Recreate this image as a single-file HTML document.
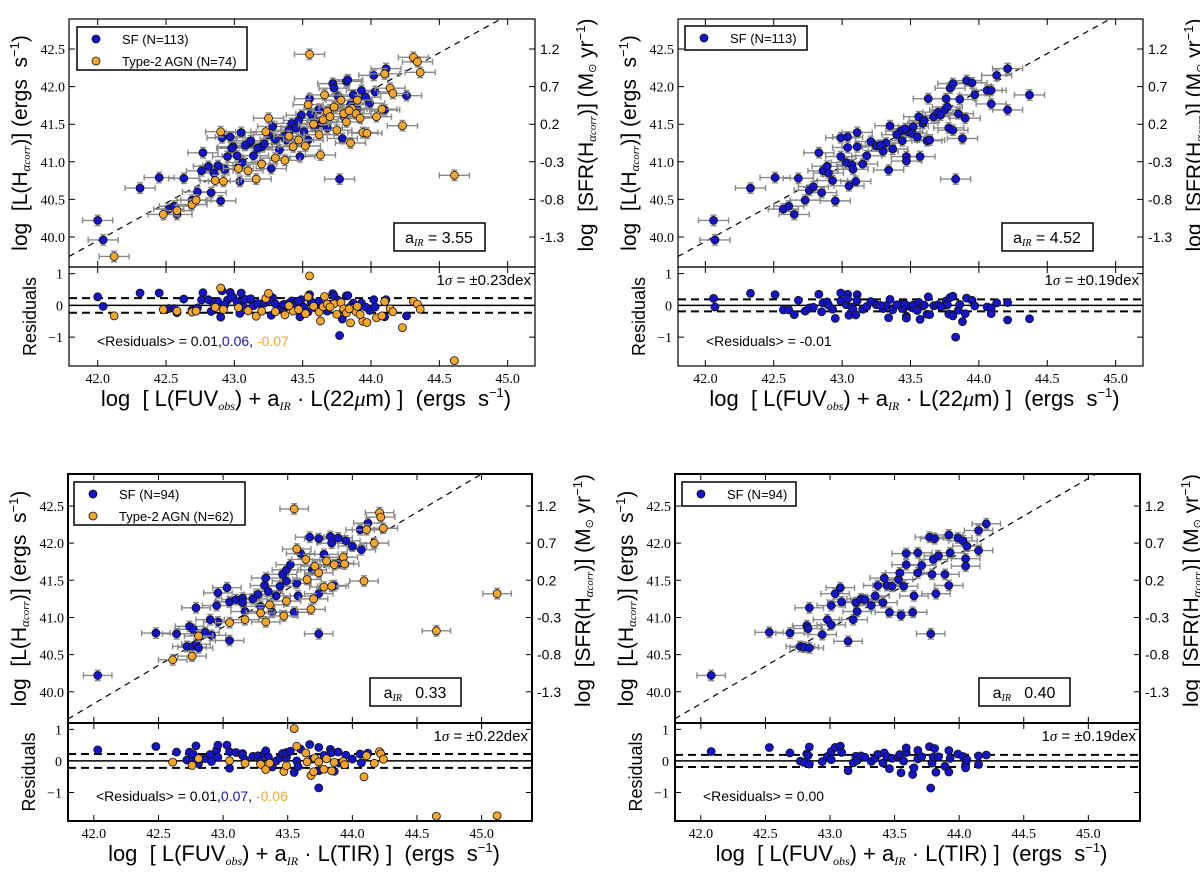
<!DOCTYPE html>
<html><head><meta charset="utf-8">
<style>
html,body{margin:0;padding:0;background:#fff;}
svg{display:block;}
text{font-family:"Liberation Sans",sans-serif;}
.serif{font-family:"Liberation Serif",serif;}
</style></head>
<body>
<svg id="chart" width="1200" height="883" viewBox="0 0 1200 883" xmlns="http://www.w3.org/2000/svg"></svg>
<script>
// ---------- data ----------
const xTicks = [42.0, 42.5, 43.0, 43.5, 44.0, 44.5, 45.0];
const xTickLabels = ["42.0","42.5","43.0","43.5","44.0","44.5","45.0"];
const yTicks = [40.0, 40.5, 41.0, 41.5, 42.0, 42.5];
const yTickLabels = ["40.0","40.5","41.0","41.5","42.0","42.5"];
const sfrTickLabels = ["-1.3","-0.8","-0.3","0.2","0.7","1.2"];
const resTicks = [-1, 0, 1];
const resTickLabels = ["\u22121","0","1"];

// Panel 1 (22um, SF + AGN)
const p1SfX = [42.0,42.04,42.31,42.45,42.52,42.56,42.58,42.63,42.69,42.73,42.77,42.76,42.81,42.83,42.85,42.90,42.91,42.95,42.97,42.99,43.04,43.05,43.06,43.11,43.14,43.20,43.27,43.28,43.33,43.38,43.42,43.48,43.49,43.51,43.54,43.55,43.58,43.59,43.68,43.70,43.72,43.73,43.76,43.77,43.79,43.82,43.83,43.87,43.93,43.99,44.02,44.03,44.10,44.11,44.26,42.98,43.02,43.08,43.17,43.22,43.30,43.36,43.40,43.45,43.47,43.56,43.62,43.64,43.80,43.85,43.90,43.96,42.88,42.93,43.12,43.25];
const p1SfY = [40.22,39.96,40.65,40.79,40.37,40.41,40.30,40.78,40.49,40.60,41.12,40.88,40.94,40.59,40.85,40.48,41.32,41.07,41.33,41.20,40.74,41.39,40.99,41.25,41.08,41.20,40.91,41.47,41.16,41.29,41.51,41.07,41.62,41.40,41.29,41.84,41.58,41.47,41.45,41.69,42.04,41.98,41.87,40.77,41.31,42.07,42.09,41.89,41.95,41.78,42.15,41.93,41.69,42.24,41.88,41.18,41.08,41.22,41.18,41.24,41.30,41.34,41.42,41.45,41.55,41.64,41.70,41.52,41.60,41.76,41.70,41.86,40.95,40.90,41.28,41.36];
const p1AgnX = [42.12,42.48,42.58,42.69,42.72,42.90,42.92,42.86,43.03,43.10,43.16,43.20,43.23,43.25,43.30,43.37,43.43,43.47,43.52,43.54,43.55,43.62,43.63,43.65,43.66,43.68,43.73,43.75,43.78,43.80,43.82,43.85,43.86,43.89,43.90,43.94,43.97,44.04,44.08,44.10,44.14,44.16,44.23,44.31,44.34,44.36,44.61,43.40,43.58,43.70,43.84,43.92];
const p1AgnY = [39.74,40.30,40.35,40.43,40.49,41.40,40.74,40.75,40.91,40.88,40.77,40.97,41.40,41.58,41.05,41.02,41.20,41.29,41.21,41.76,42.43,41.36,41.09,41.56,41.89,41.67,41.73,41.42,41.82,41.64,41.53,41.25,41.71,41.64,41.82,41.39,41.38,41.60,41.70,42.17,41.98,41.91,41.48,42.39,42.33,42.19,40.82,41.34,41.50,41.60,41.68,41.58];

// Panel 2 (22um, SF only)
const p2SfX = [42.06,42.07,42.33,42.51,42.57,42.61,42.65,42.68,42.73,42.76,42.79,42.83,42.85,42.86,42.89,42.90,42.93,42.95,42.99,42.99,43.03,43.04,43.04,43.05,43.07,43.08,43.10,43.11,43.11,43.15,43.18,43.21,43.25,43.30,43.32,43.34,43.35,43.37,43.43,43.44,43.47,43.47,43.48,43.51,43.52,43.55,43.56,43.57,43.59,43.62,43.63,43.64,43.67,43.75,43.76,43.77,43.78,43.79,43.81,43.81,43.83,43.85,43.86,43.88,43.90,43.91,43.95,43.97,44.06,44.09,44.09,44.13,44.21,44.21,44.37,43.40,43.46,43.60,43.70,43.28,43.72];
const p2SfY = [40.22,39.96,40.65,40.79,40.37,40.41,40.30,40.78,40.49,40.62,40.67,41.12,40.59,40.88,40.94,40.85,40.75,40.48,41.32,41.07,40.99,41.33,41.19,40.68,40.96,40.90,40.74,41.39,41.20,40.97,41.08,41.27,41.21,41.14,41.25,40.89,41.48,41.17,41.41,41.28,41.07,41.01,41.40,41.38,41.47,41.33,41.60,41.07,41.51,41.28,41.84,41.29,41.60,41.69,41.84,41.73,41.45,41.98,42.04,41.42,40.77,41.64,41.83,41.31,41.58,42.08,42.05,41.89,41.95,41.95,41.77,42.15,42.24,41.69,41.89,41.36,41.44,41.55,41.66,41.22,41.62];

// Panel 3 (TIR, SF + AGN)
const p3SfX = [42.03,42.48,42.64,42.79,42.74,42.77,42.72,42.76,42.79,42.81,42.86,42.90,42.91,42.95,42.96,42.96,43.03,43.05,43.05,43.10,43.15,43.15,43.17,43.23,43.27,43.29,43.32,43.33,43.35,43.38,43.41,43.44,43.46,43.49,43.49,43.52,43.55,43.57,43.58,43.60,43.67,43.69,43.74,43.74,43.74,43.78,43.83,43.84,43.86,43.89,43.90,43.95,44.00,44.06,44.07,44.12];
const p3SfY = [40.22,40.79,40.78,41.13,40.88,40.84,40.61,40.60,40.64,40.59,40.80,40.97,40.76,41.16,41.33,40.94,41.40,41.21,40.69,41.24,41.26,41.20,41.08,41.25,41.31,41.15,41.43,41.53,41.35,41.07,41.29,41.42,41.58,41.49,41.64,41.71,41.07,41.46,41.29,41.86,42.08,41.64,41.32,40.78,42.06,41.85,42.09,42.00,41.43,42.07,41.73,42.03,41.96,42.18,41.91,42.27];
const p3AgnX = [42.61,42.76,42.81,43.05,43.17,43.29,43.33,43.36,43.47,43.49,43.55,43.57,43.64,43.65,43.68,43.70,43.71,43.74,43.78,43.80,43.84,43.86,43.93,43.94,44.09,44.11,44.17,44.21,44.22,44.24,44.65,45.12];
const p3AgnY = [40.43,40.48,40.75,40.93,40.97,41.06,40.94,41.17,41.02,41.22,42.46,41.92,41.78,41.51,41.11,41.25,41.69,41.60,41.41,41.76,41.42,41.71,41.81,41.72,41.49,42.18,42.00,42.41,42.35,42.20,40.82,41.32];

// Panel 4 (TIR, SF only)
const p4SfX = [42.08,42.53,42.69,42.84,42.82,42.83,42.77,42.80,42.84,42.94,42.98,43.01,43.01,43.04,43.08,43.09,43.14,43.18,43.20,43.21,43.24,43.27,43.32,43.35,43.37,43.41,43.42,43.44,43.46,43.48,43.53,43.54,43.55,43.57,43.59,43.59,43.64,43.65,43.68,43.68,43.71,43.77,43.78,43.79,43.80,43.81,43.82,43.84,43.89,43.92,43.92,43.93,43.99,44.03,44.05,44.05,44.06,44.15,44.15,44.21];
const p4SfY = [40.22,40.80,40.79,41.13,40.89,40.85,40.61,40.60,40.59,40.77,40.97,40.90,41.16,41.32,41.40,41.21,40.68,40.97,41.20,41.08,41.25,41.24,41.16,41.29,41.43,41.20,41.53,41.43,41.07,41.42,41.51,41.60,41.03,41.42,41.71,41.86,41.07,41.29,41.60,41.87,41.70,42.08,40.78,41.58,41.78,42.06,41.32,41.83,41.58,42.11,41.43,41.87,42.07,42.03,41.79,41.69,41.96,42.17,41.90,42.26];

const BLUE = "#1414c8", ORANGE = "#f5a52a", ERR = "#8a8a8a";

const svg = document.getElementById('chart');
const NS = "http://www.w3.org/2000/svg";
function mk(tag, attrs, parent){
  const e = document.createElementNS(NS, tag);
  for (const k in attrs) e.setAttribute(k, attrs[k]);
  (parent || svg).appendChild(e);
  return e;
}

function drawPanel(g, sfX, sfY, agnX, agnY) {
  const grp = mk('g', {});
  
  
  const xs = v => g.L + (v - g.xmin) / (g.xmax - g.xmin) * (g.R - g.L);
  const ys = v => g.T + (g.ymax - v) / (g.ymax - g.ymin) * (g.Mb - g.T);
  const rs = v => g.Mb + (g.rmax - v) / (g.rmax - g.rmin) * (g.Rb - g.Mb);
  const fit = x => g.b + g.m * (x - 42);

  // clip paths
  const cid = g.name + '-clip', rcid = g.name + '-rclip';
  const defs = mk('defs', {}, grp);
  const cp = mk('clipPath', {id: cid}, defs);
  mk('rect', {x: g.L, y: g.T, width: g.R - g.L, height: g.Mb - g.T}, cp);
  const rcp = mk('clipPath', {id: rcid}, defs);
  mk('rect', {x: g.L, y: g.Mb, width: g.R - g.L, height: g.Rb - g.Mb}, rcp);

  // fit line
  const fl = mk('line', {x1: xs(g.xmin), y1: ys(fit(g.xmin)), x2: xs(g.xmax), y2: ys(fit(g.xmax)),
    stroke: '#000', 'stroke-width': 1.2, 'stroke-dasharray': '6,5', 'clip-path': 'url(#' + cid + ')'}, grp);
  
  

  // residual reference lines
  const z = mk('line', {x1: g.L, x2: g.R, y1: rs(0), y2: rs(0), stroke: '#000', 'stroke-width': 1.5}, grp);
  
  
  [g.sig, -g.sig].forEach(s => {
    const d = mk('line', {x1: g.L, x2: g.R, y1: rs(s), y2: rs(s), stroke: '#000', 'stroke-width': 2, 'stroke-dasharray': '8,5'}, grp);
    
    
  });

  function series(X, Y, color, label) {
    const sg = mk('g', {}, grp);
    
    
    for (let i = 0; i < X.length; i++) {
      const cx = xs(X[i]), cy = ys(Y[i]);
      const eb = mk('path', {d: `M${xs(X[i]-0.11)},${cy}H${xs(X[i]+0.11)}M${cx},${ys(Y[i]-0.07)}V${ys(Y[i]+0.07)}M${xs(X[i]-0.11)},${cy-3}v6M${xs(X[i]+0.11)},${cy-3}v6M${cx-3},${ys(Y[i]-0.07)}h6M${cx-3},${ys(Y[i]+0.07)}h6`,
        stroke: ERR, 'stroke-width': 1.4, fill: 'none', 'clip-path': 'url(#' + cid + ')'}, sg);
      
      
    }
    for (let i = 0; i < X.length; i++) {
      const c = mk('circle', {cx: xs(X[i]), cy: ys(Y[i]), r: 4, fill: color, stroke: '#111', 'stroke-width': 0.8, 'clip-path': 'url(#' + cid + ')'}, sg);
      
      
    }
    for (let i = 0; i < X.length; i++) {
      const r = Y[i] - fit(X[i]);
      const c = mk('circle', {cx: xs(X[i]), cy: rs(r), r: 4, fill: color, stroke: '#111', 'stroke-width': 0.8, 'clip-path': 'url(#' + rcid + ')'}, sg);
      
      
    }
  }
  if (agnX) {
    // interleave visually: draw SF then AGN
    series(sfX, sfY, BLUE, 'sf');
    series(agnX, agnY, ORANGE, 'agn');
  } else {
    series(sfX, sfY, BLUE, 'sf');
  }

  // axes frames
  const f1 = mk('rect', {x: g.L, y: g.T, width: g.R - g.L, height: g.Mb - g.T, fill: 'none', stroke: '#000', 'stroke-width': g.bw}, grp);
  
  
  const f2 = mk('rect', {x: g.L, y: g.Mb, width: g.R - g.L, height: g.Rb - g.Mb, fill: 'none', stroke: '#000', 'stroke-width': g.bw}, grp);
  
  

  // x ticks
  xTicks.forEach((v, i) => {
    const x = xs(v);
    const t = mk('path', {d: `M${x},${g.Rb}v-6M${x},${g.Mb}v-6M${x},${g.Mb}v6M${x},${g.T}v6`, stroke: '#000', 'stroke-width': 1}, grp);
    
    
    const l = mk('text', {x: x, y: g.Rb + 17, 'text-anchor': 'middle', 'font-size': 14, class: 'serif'}, grp);
    l.textContent = xTickLabels[i];
    
    
  });
  // y ticks main
  yTicks.forEach((v, i) => {
    const y = ys(v);
    const t = mk('path', {d: `M${g.L},${y}h6M${g.R},${y}h-6`, stroke: '#000', 'stroke-width': 1}, grp);
    
    
    const l = mk('text', {x: g.L - 4, y: y + 5, 'text-anchor': 'end', 'font-size': 14, class: 'serif'}, grp);
    l.textContent = yTickLabels[i];
    
    
    const r = mk('text', {x: g.R + 5, y: y + 5, 'text-anchor': 'start', 'font-size': 14}, grp);
    r.textContent = sfrTickLabels[i];
    
    
  });
  resTicks.forEach((v, i) => {
    const y = rs(v);
    const t = mk('path', {d: `M${g.L},${y}h6M${g.R},${y}h-6`, stroke: '#000', 'stroke-width': 1}, grp);
    
    
    const l = mk('text', {x: g.L - 6, y: y + 5, 'text-anchor': 'end', 'font-size': 14, class: 'serif'}, grp);
    l.textContent = resTickLabels[i];
    
    
  });

  // axis titles
  const yl = mk('text', {transform: `translate(${g.L - 42},${(g.T + g.Mb) / 2}) rotate(-90)`, 'text-anchor': 'middle', 'font-size': 21}, grp);
  yl.innerHTML = 'log&#160;&#160;[L(H<tspan font-style="italic" font-size="13" dy="3" class="serif">α</tspan><tspan font-style="italic" font-size="11" dy="0" class="serif">corr</tspan><tspan dy="-3">)] (ergs&#160;&#160;s</tspan><tspan font-size="13" dy="-8">−1</tspan><tspan dy="8">)</tspan>';
  
  
  const yr = mk('text', {transform: `translate(${g.R + 58},${(g.T + g.Mb) / 2 - 8}) rotate(-90)`, 'text-anchor': 'middle', 'font-size': 21}, grp);
  yr.innerHTML = 'log&#160;&#160;[SFR(H<tspan font-style="italic" font-size="13" dy="3" class="serif">α</tspan><tspan font-style="italic" font-size="11" class="serif">corr</tspan><tspan dy="-3">)] (M</tspan><tspan font-size="11" dy="3">⊙</tspan><tspan dy="-3"> yr</tspan><tspan font-size="13" dy="-8">−1</tspan><tspan dy="8">)</tspan>';
  
  
  const rl = mk('text', {transform: `translate(${g.L - 33},${(g.Mb + g.Rb) / 2}) rotate(-90)`, 'text-anchor': 'middle', 'font-size': 18}, grp);
  rl.textContent = 'Residuals';
  
  
  const xl = mk('text', {x: (g.L + g.R) / 2 + 4, y: g.Rb + 40, 'text-anchor': 'middle', 'font-size': 22}, grp);
  xl.innerHTML = 'log&#160;&#160;[ L(FUV<tspan font-style="italic" font-size="12" dy="4" class="serif">obs</tspan><tspan dy="-4">) + a</tspan><tspan font-style="italic" font-size="12" dy="4" class="serif">IR</tspan><tspan dy="-4"> · L(' + g.band + ') ]&#160;&#160;(ergs&#160;&#160;s</tspan><tspan font-size="13" dy="-9">−1</tspan><tspan dy="9">)</tspan>';
  
  

  // legend
  const lg = mk('g', {}, grp);
  
  
  const lb = mk('rect', {x: g.leg[0], y: g.leg[1], width: g.leg[2], height: g.leg[3], fill: '#fff', stroke: '#000', 'stroke-width': 1.5}, lg);
  
  
  g.legItems.forEach((it, i) => {
    const yy = g.leg[1] + 12 + i * 22;
    const c = mk('circle', {cx: g.leg[0] + 19, cy: yy, r: 4, fill: it[1], stroke: '#111', 'stroke-width': 0.8}, lg);
    
    
    const t = mk('text', {x: g.leg[0] + 45, y: yy + 5, 'font-size': 13}, lg);
    t.textContent = it[0];
    
    
  });

  // a_IR box
  const ab = mk('rect', {x: g.abox[0], y: g.abox[1], width: 91, height: 28, fill: '#fff', stroke: '#000', 'stroke-width': 1.5}, grp);
  
  
  const at = mk('text', {x: g.abox[0] + 45, y: g.abox[1] + 20, 'text-anchor': 'middle', 'font-size': 16}, grp);
  at.innerHTML = 'a<tspan font-style="italic" font-size="10" dy="3" class="serif">IR</tspan><tspan dy="-3"> ' + g.aText + '</tspan>';
  
  

  // sigma text
  const st = mk('text', {x: g.R - 4, y: g.Mb + 18, 'text-anchor': 'end', 'font-size': 15}, grp);
  st.innerHTML = '1<tspan font-style="italic" class="serif">σ</tspan> = ' + g.sigText;
  
  
  const mt = mk('text', {x: g.L + 28, y: g.Rb - 20, 'font-size': 14}, grp);
  mt.innerHTML = g.meanText;
  
  
}

const topY = {T: 19, Mb: 267, Rb: 366, ymin: 39.6, ymax: 42.9, rmin: -1.91, rmax: 1.21};
const botY = {T: 474, Mb: 723, Rb: 821, ymin: 39.58, ymax: 42.93, rmin: -1.9, rmax: 1.2};

drawPanel(Object.assign({name: 'panel-22um-sf-agn', L: 69, R: 535, xmin: 41.79, xmax: 45.20, b: 39.95, m: 1.0, sig: 0.23, bw: 1.2,
  band: '22<tspan font-style="italic" class="serif">μ</tspan>m', leg: [77, 27, 170, 43],
  legItems: [['SF (N=113)', BLUE], ['Type-2 AGN (N=74)', ORANGE]], abox: [394, 223], aText: '= 3.55',
  sigText: '±0.23dex', meanText: '&lt;Residuals&gt; = 0.01,<tspan fill="#1414c8">0.06</tspan>, <tspan fill="#f5a52a">-0.07</tspan>'}, topY),
  p1SfX, p1SfY, p1AgnX, p1AgnY);

drawPanel(Object.assign({name: 'panel-22um-sf', L: 678, R: 1143, xmin: 41.80, xmax: 45.20, b: 39.94, m: 1.0, sig: 0.19, bw: 1.2,
  band: '22<tspan font-style="italic" class="serif">μ</tspan>m', leg: [685, 26, 122, 24],
  legItems: [['SF (N=113)', BLUE]], abox: [1002, 223], aText: '= 4.52',
  sigText: '±0.19dex', meanText: '&lt;Residuals&gt; = -0.01'}, topY),
  p2SfX, p2SfY, null, null);

drawPanel(Object.assign({name: 'panel-tir-sf-agn', L: 68, R: 532, xmin: 41.80, xmax: 45.39, b: 39.84, m: 1.03, sig: 0.22, bw: 2,
  band: 'TIR', leg: [74, 482, 171, 43],
  legItems: [['SF (N=94)', BLUE], ['Type-2 AGN (N=62)', ORANGE]], abox: [370, 678], aText: '&#160;&#160;0.33',
  sigText: '±0.22dex', meanText: '&lt;Residuals&gt; = 0.01,<tspan fill="#1414c8">0.07</tspan>, <tspan fill="#f5a52a">-0.06</tspan>'}, botY),
  p3SfX, p3SfY, p3AgnX, p3AgnY);

drawPanel(Object.assign({name: 'panel-tir-sf', L: 675, R: 1140, xmin: 41.80, xmax: 45.40, b: 39.84, m: 1.01, sig: 0.19, bw: 2,
  band: 'TIR', leg: [682, 482, 114, 24],
  legItems: [['SF (N=94)', BLUE]], abox: [979, 678], aText: '&#160;&#160;0.40',
  sigText: '±0.19dex', meanText: '&lt;Residuals&gt; = 0.00'}, botY),
  p4SfX, p4SfY, null, null);
</script>
</body></html>
